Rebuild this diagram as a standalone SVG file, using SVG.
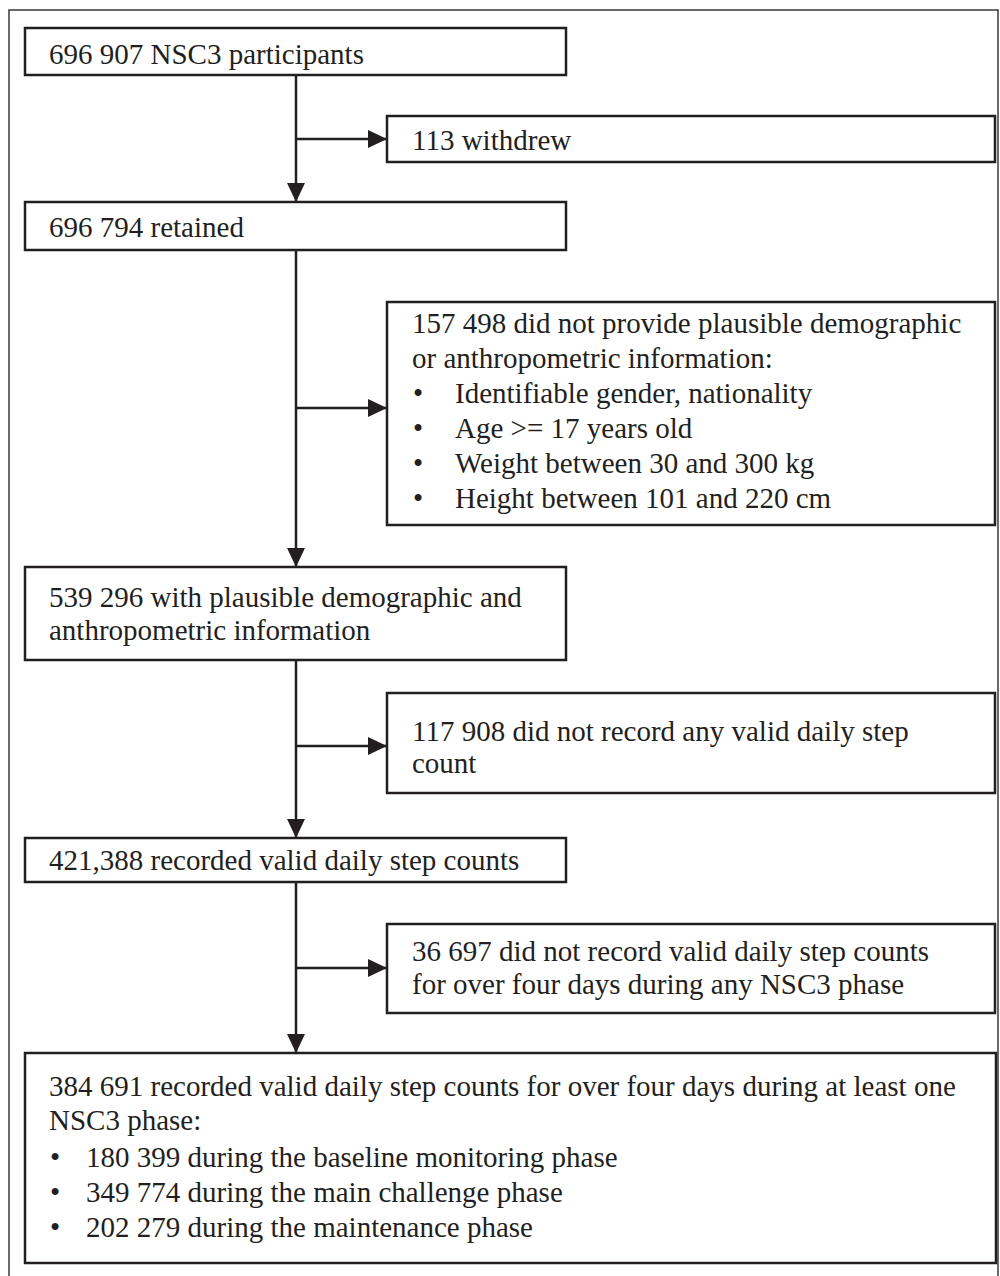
<svg xmlns="http://www.w3.org/2000/svg" width="1000" height="1276" viewBox="0 0 1000 1276">
<defs>
<style>
.box{fill:#fff;stroke:#231f20;stroke-width:2.5}
.frame{fill:#fff;stroke:#3a3a3a;stroke-width:1.5}
.ln{fill:none;stroke:#231f20;stroke-width:2.5}
text{font-family:"Liberation Serif","Times New Roman",serif;font-size:29px;fill:#231f20}
</style>
<marker id="ah" markerUnits="userSpaceOnUse" markerWidth="19" markerHeight="18" refX="19" refY="9" orient="auto">
<path d="M0,0 L19,9 L0,18 z" fill="#231f20"/>
</marker>
</defs>
<rect class="frame" x="9" y="10" width="989" height="1280"/>
<g id="connectors">
<line class="ln" x1="296" y1="75" x2="296" y2="202" marker-end="url(#ah)"/>
<line class="ln" x1="296" y1="139" x2="387" y2="139" marker-end="url(#ah)"/>
<line class="ln" x1="296" y1="250" x2="296" y2="567" marker-end="url(#ah)"/>
<line class="ln" x1="296" y1="408" x2="387" y2="408" marker-end="url(#ah)"/>
<line class="ln" x1="296" y1="660" x2="296" y2="838" marker-end="url(#ah)"/>
<line class="ln" x1="296" y1="746" x2="387" y2="746" marker-end="url(#ah)"/>
<line class="ln" x1="296" y1="882" x2="296" y2="1053" marker-end="url(#ah)"/>
<line class="ln" x1="296" y1="968" x2="387" y2="968" marker-end="url(#ah)"/>
</g>
<g id="n1">
<rect class="box" x="25" y="28" width="541" height="47"/>
<text x="49" y="64">696 907 NSC3 participants</text>
</g>
<g id="n2">
<rect class="box" x="387" y="116" width="608" height="46"/>
<text x="412" y="150">113 withdrew</text>
</g>
<g id="n3">
<rect class="box" x="25" y="202" width="541" height="48"/>
<text x="49" y="237">696 794 retained</text>
</g>
<g id="n4">
<rect class="box" x="387" y="302" width="608" height="223"/>
<text x="412" y="333">157 498 did not provide plausible demographic</text>
<text x="412" y="368">or anthropometric information:</text>
<text x="413" y="403">•</text><text x="455" y="403">Identifiable gender, nationality</text>
<text x="413" y="438">•</text><text x="455" y="438">Age &gt;= 17 years old</text>
<text x="413" y="473">•</text><text x="455" y="473">Weight between 30 and 300 kg</text>
<text x="413" y="508">•</text><text x="455" y="508">Height between 101 and 220 cm</text>
</g>
<g id="n5">
<rect class="box" x="25" y="567" width="541" height="93"/>
<text x="49" y="607">539 296 with plausible demographic and</text>
<text x="49" y="640">anthropometric information</text>
</g>
<g id="n6">
<rect class="box" x="387" y="693" width="608" height="100"/>
<text x="412" y="741">117 908 did not record any valid daily step</text>
<text x="412" y="773">count</text>
</g>
<g id="n7">
<rect class="box" x="25" y="838" width="541" height="44"/>
<text x="49" y="870">421,388 recorded valid daily step counts</text>
</g>
<g id="n8">
<rect class="box" x="387" y="924" width="608" height="89"/>
<text x="412" y="961">36 697 did not record valid daily step counts</text>
<text x="412" y="994">for over four days during any NSC3 phase</text>
</g>
<g id="n9">
<rect class="box" x="25" y="1053" width="971" height="210"/>
<text x="49" y="1096">384 691 recorded valid daily step counts for over four days during at least one</text>
<text x="49" y="1130">NSC3 phase:</text>
<text x="50" y="1167">•</text><text x="86" y="1167">180 399 during the baseline monitoring phase</text>
<text x="50" y="1202">•</text><text x="86" y="1202">349 774 during the main challenge phase</text>
<text x="50" y="1237">•</text><text x="86" y="1237">202 279 during the maintenance phase</text>
</g>
</svg>
